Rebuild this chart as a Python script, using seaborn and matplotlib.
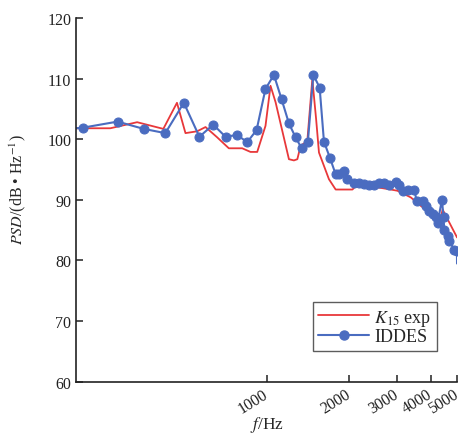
import matplotlib
matplotlib.use("Agg")
import matplotlib.pyplot as plt
import matplotlib.transforms as mtransforms
import seaborn as sns
import pandas as pd
from matplotlib.lines import Line2D
from matplotlib.ticker import FixedLocator, NullLocator, FixedFormatter

# K15 exp (red)
exp_f = [200, 267, 335, 418, 469, 504, 556, 597, 659, 727, 814, 873, 924, 991,
         1034, 1079, 1208, 1260, 1297, 1333, 1411, 1472, 1520, 1557, 1694, 1793,
         2066, 2156, 2857, 3023, 3384, 3683, 4009, 4362, 4426, 5000]
exp_psd = [101.8, 101.8, 102.8, 101.7, 106.0, 101.0, 101.3, 102.0, 100.3, 98.5, 98.5, 97.9, 97.9, 102.2,
           108.8, 106.1, 96.7, 96.5, 96.7, 98.9, 99.7, 109.9, 103.3, 97.8, 93.4, 91.7,
           91.7, 92.6, 91.7, 91.5, 90.4, 89.0, 87.9, 87.1, 88.4, 83.8]

# IDDES (blue)
iddes_f = [212, 284, 354, 425, 497, 567, 637, 707, 780, 849, 919, 991, 1064, 1135,
           1208, 1278, 1345, 1418, 1485, 1566, 1624, 1709, 1793, 1845, 1924, 1981,
           2094, 2184, 2279, 2377, 2480, 2587, 2700, 2817, 2981, 3065, 3154, 3291,
           3480, 3561, 3737, 3842, 3951, 4067, 4182, 4243, 4400, 4463, 4486, 4617,
           4680, 4883, 4995, 5000]
iddes_psd = [101.9, 102.9, 101.7, 101.0, 106.0, 100.4, 102.4, 100.4, 100.7, 99.5, 101.5, 108.3, 110.6, 106.6,
             102.6, 100.3, 98.5, 99.6, 110.6, 108.5, 99.6, 96.9, 94.2, 94.2, 94.8, 93.4,
             92.8, 92.7, 92.6, 92.4, 92.4, 92.7, 92.7, 92.4, 92.9, 92.4, 91.5, 91.7,
             91.6, 89.8, 89.8, 89.0, 88.2, 87.6, 87.1, 86.2, 90.0, 87.1, 85.1, 84.0,
             83.2, 81.8, 81.5, 79.5]

xticks = [1000, 2000, 3000, 4000, 5000]
xtick_labels = ["1000", "2000", "3000", "4000", "5000"]
yticks = [60, 70, 80, 90, 100, 110, 120]

sns.set_style("ticks")
plt.rcParams["font.family"] = ["Liberation Serif", "DejaVu Serif"]
plt.rcParams["mathtext.fontset"] = "stix"

red = "#e8383a"
blue = "#4a6cc0"

fig = plt.figure(figsize=(4.64, 4.39), dpi=100)
ax = fig.add_axes([0.164, 0.128, 0.821, 0.829])

df_exp = pd.DataFrame({"f": exp_f, "psd": exp_psd})
df_id = pd.DataFrame({"f": iddes_f, "psd": iddes_psd})

sns.lineplot(data=df_exp, x="f", y="psd", ax=ax, color=red, lw=1.3,
             sort=False, legend=False)
sns.lineplot(data=df_id, x="f", y="psd", ax=ax, color=blue, lw=1.5,
             marker="o", markersize=6.5, markeredgecolor=blue,
             markevery=list(range(len(iddes_f) - 1)), sort=False, legend=False)
# connect start of blue line to the left edge
ax.plot([200, iddes_f[0]], [101.8, iddes_psd[0]], color=blue, lw=1.5)

ax.set_xscale("log")
ax.set_xlim(200, 5000)
ax.set_ylim(60, 120)
ax.xaxis.set_major_locator(FixedLocator(xticks))
ax.xaxis.set_major_formatter(FixedFormatter(xtick_labels))
ax.xaxis.set_minor_locator(NullLocator())
ax.set_yticks(yticks)

ax.tick_params(axis="both", direction="in", length=5, width=1.1, labelsize=11.5,
               colors="#222222")
ax.tick_params(axis="x", pad=3)

shift = mtransforms.ScaledTranslation(-4 / 100, 0, fig.dpi_scale_trans)
for lab in ax.get_xticklabels():
    lab.set_rotation(32)
    lab.set_ha("right")
    lab.set_rotation_mode("anchor")
    lab.set_transform(lab.get_transform() + shift)

for s in ["top", "right"]:
    ax.spines[s].set_visible(False)
for s in ["left", "bottom"]:
    ax.spines[s].set_linewidth(1.2)
    ax.spines[s].set_color("#222222")

ax.set_xlabel(r"$f$/Hz", fontsize=12.5, labelpad=-2)
ax.set_ylabel(r"$PSD$/(dB • Hz$^{-1}$)", fontsize=11.5)
ax.yaxis.set_label_coords(-0.125, 0.53)

handles = [Line2D([], [], color=red, lw=1.3),
           Line2D([], [], color=blue, lw=1.5, marker="o", markersize=6.5,
                  markeredgecolor=blue)]
leg = ax.legend(handles, [r"$K_{15}$ exp", "IDDES"], loc="lower right",
                bbox_to_anchor=(0.947, 0.085), fontsize=13,
                frameon=True, fancybox=False, edgecolor="#333333",
                handlelength=2.8, borderpad=0.3, labelspacing=0.05,
                handletextpad=0.3, borderaxespad=0)
leg.get_frame().set_linewidth(1.0)

fig.savefig("out.png", dpi=100)
